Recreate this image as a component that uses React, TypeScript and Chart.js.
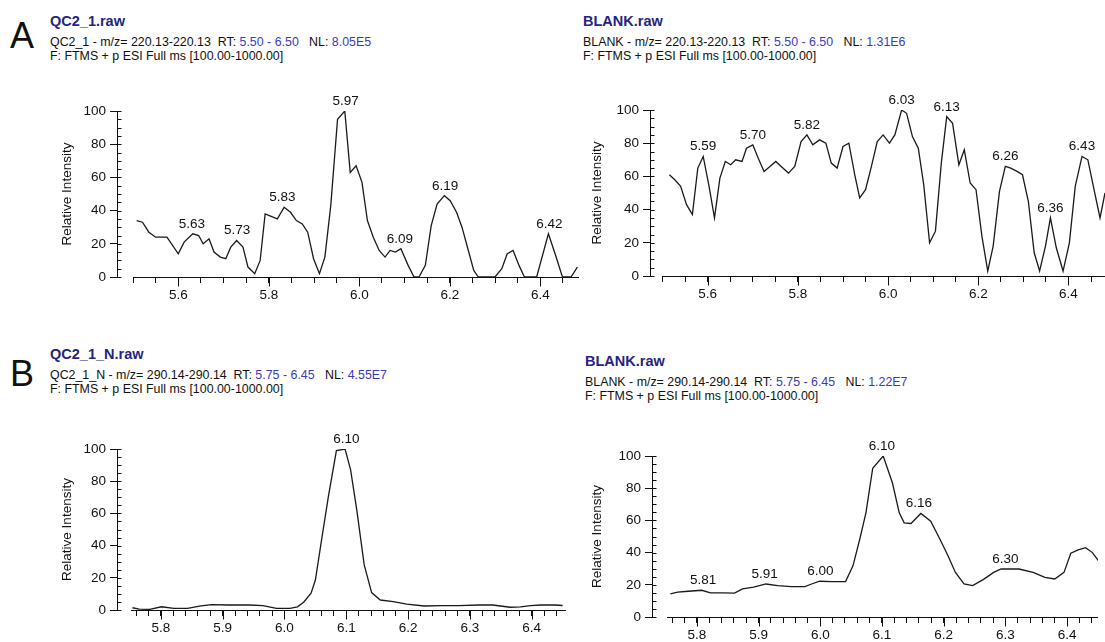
import React, { useEffect, useRef } from 'react';
import { Chart, registerables } from 'chart.js';

Chart.register(...registerables);

const FONT = '"Liberation Sans", Arial, Helvetica, sans-serif';

// ---------- Panel A, left: QC2_1.raw, m/z 220.13 ----------
const rtQcA = [5.508, 5.521, 5.535, 5.550, 5.575, 5.600, 5.613, 5.632, 5.645, 5.655, 5.668, 5.679, 5.693, 5.705, 5.716, 5.729, 5.743, 5.754, 5.769, 5.781, 5.792, 5.819, 5.834, 5.848, 5.861, 5.874, 5.886, 5.899, 5.912, 5.924, 5.937, 5.952, 5.968, 5.980, 5.993, 6.006, 6.018, 6.031, 6.044, 6.057, 6.068, 6.080, 6.092, 6.108, 6.121, 6.132, 6.146, 6.159, 6.172, 6.188, 6.201, 6.215, 6.227, 6.240, 6.253, 6.263, 6.300, 6.315, 6.327, 6.340, 6.353, 6.365, 6.392, 6.418, 6.434, 6.449, 6.468, 6.482];
const intQcA = [34, 33, 27, 24, 24, 14, 21, 26, 25, 20, 23, 15, 12, 11, 18, 22, 18, 6, 2, 10, 38, 35, 42, 39, 34, 32, 27, 11, 2, 12, 43, 95, 100, 63, 67, 57, 34, 24, 16, 12, 16, 15, 17, 7, 0, 0, 7, 31, 44, 49, 46, 39, 30, 17, 4, 0, 0, 5, 14, 16, 7, 0, 0, 26, 13, 0, 0, 6];
const peaksQcA = [5.63, 5.73, 5.83, 5.97, 6.09, 6.19, 6.42];

// ---------- Panel A, right: BLANK.raw, m/z 220.13 ----------
const rtBlankA = [5.515, 5.527, 5.540, 5.553, 5.566, 5.578, 5.590, 5.603, 5.615, 5.627, 5.639, 5.651, 5.662, 5.676, 5.686, 5.700, 5.712, 5.725, 5.738, 5.751, 5.763, 5.779, 5.793, 5.807, 5.820, 5.833, 5.848, 5.862, 5.874, 5.887, 5.900, 5.913, 5.926, 5.937, 5.950, 5.963, 5.976, 5.989, 6.003, 6.015, 6.030, 6.041, 6.054, 6.067, 6.079, 6.092, 6.105, 6.118, 6.130, 6.143, 6.157, 6.169, 6.182, 6.195, 6.208, 6.221, 6.233, 6.247, 6.260, 6.272, 6.286, 6.298, 6.311, 6.324, 6.336, 6.349, 6.360, 6.373, 6.388, 6.402, 6.415, 6.430, 6.443, 6.456, 6.470, 6.481, 6.492];
const intBlankA = [61, 58, 54, 43, 37, 65, 72, 54, 35, 59, 69, 67, 70, 69, 77, 79, 71, 63, 66, 69, 66, 62, 66, 81, 85, 79, 82, 80, 68, 65, 78, 80, 61, 47, 52, 66, 81, 85, 80, 85, 100, 98, 84, 77, 55, 20, 27, 68, 96, 92, 67, 76, 56, 52, 24, 3, 18, 51, 66, 65, 63, 61, 45, 14, 3, 18, 35, 17, 3, 20, 54, 72, 70, 53, 35, 50, 52];
const peaksBlankA = [5.59, 5.70, 5.82, 6.03, 6.13, 6.26, 6.36, 6.43];

// ---------- Panel B, left: QC2_1_N.raw, m/z 290.14 ----------
const rtQcB = [5.754, 5.765, 5.782, 5.801, 5.821, 5.843, 5.865, 5.882, 5.909, 5.943, 5.965, 5.987, 6.009, 6.021, 6.031, 6.043, 6.050, 6.060, 6.071, 6.084, 6.098, 6.107, 6.117, 6.129, 6.141, 6.155, 6.176, 6.198, 6.226, 6.254, 6.282, 6.315, 6.337, 6.365, 6.382, 6.398, 6.415, 6.437, 6.450];
const intQcB = [1.4, 0.6, 0.4, 2, 1, 1, 2.5, 3.3, 3.1, 3.1, 2.7, 1, 1, 2, 4.8, 10.4, 18.6, 43.5, 70.4, 99, 100, 87, 62, 28, 10.8, 6.2, 5.2, 3.7, 2.5, 2.7, 2.7, 3.1, 3.1, 1.7, 2, 2.7, 3.1, 3.1, 2.8];
const peaksQcB = [6.10];

// ---------- Panel B, right: BLANK.raw, m/z 290.14 ----------
const rtBlankB = [5.757, 5.769, 5.786, 5.808, 5.822, 5.842, 5.861, 5.874, 5.892, 5.912, 5.931, 5.953, 5.975, 5.986, 5.999, 6.019, 6.041, 6.053, 6.064, 6.074, 6.085, 6.102, 6.117, 6.128, 6.136, 6.147, 6.163, 6.179, 6.194, 6.207, 6.219, 6.233, 6.247, 6.264, 6.281, 6.293, 6.306, 6.322, 6.345, 6.364, 6.380, 6.395, 6.406, 6.418, 6.430, 6.441, 6.452];
const intBlankB = [14.4, 15.4, 16, 16.6, 15, 15, 14.8, 17.5, 18.5, 20.5, 19.5, 18.9, 18.9, 20.5, 22.2, 22, 22, 31.8, 48.3, 64.7, 92.4, 100, 83.2, 64.7, 58.5, 58.1, 64.3, 59.5, 48.3, 38, 27.7, 20.5, 19.5, 23.2, 27.7, 29.8, 29.8, 29.8, 27.7, 24.6, 23.6, 27.7, 39.6, 41.7, 43.1, 40, 34.3];
const peaksBlankB = [5.81, 5.91, 6.00, 6.10, 6.16, 6.30];

type PanelProps = {
  rt: number[];
  intensity: number[];
  peaks: number[];
  left: number;
  top: number;
  w: number;
  h: number;
  padTop: number;
  yAxisW: number;
  xAxisH: number;
  xMin: number;
  xMax: number;
  axisStart: number;
  minorStep: number;
  majorStep: number;
};

function Chromatogram(p: PanelProps) {
  const ref = useRef<HTMLCanvasElement>(null);
  useEffect(() => {
    const canvas = ref.current;
    if (!canvas) return;
    const isMajor = (v: number) => Math.abs(v / p.majorStep - Math.round(v / p.majorStep)) < 1e-6;
    const points = p.rt.map((x, i) => ({ x, y: p.intensity[i] }));
    const deco = {
      id: 'chromDeco',
      afterDraw(chart: any) {
        const { ctx, chartArea } = chart;
        const xs = chart.scales.x;
        const ys = chart.scales.y;
        ctx.save();
        ctx.strokeStyle = '#111';
        ctx.lineWidth = 1;
        const yb = Math.round(chartArea.bottom) + 0.5;
        ctx.beginPath();
        ctx.moveTo(Math.round(xs.getPixelForValue(p.axisStart)), yb);
        ctx.lineTo(chartArea.right, yb);
        ctx.stroke();
        // longer marks at labelled x ticks
        xs.ticks.forEach((t: any) => {
          if (t.value >= p.axisStart - 1e-9 && isMajor(t.value)) {
            const px = Math.round(xs.getPixelForValue(t.value)) + 0.5;
            ctx.beginPath();
            ctx.moveTo(px, yb);
            ctx.lineTo(px, yb + 9);
            ctx.stroke();
          }
        });
        // minor y ticks (every 5)
        const lx = Math.round(chartArea.left) + 0.5;
        for (let v = 0; v <= 100; v += 5) {
          const py = Math.round(ys.getPixelForValue(v)) + 0.5;
          ctx.beginPath();
          ctx.moveTo(lx, py);
          ctx.lineTo(lx + 4, py);
          ctx.stroke();
        }
        // peak retention-time labels
        ctx.fillStyle = '#111';
        ctx.font = `13.5px ${FONT}`;
        ctx.textAlign = 'center';
        ctx.textBaseline = 'bottom';
        p.peaks.forEach((pk) => {
          let best = -1;
          p.rt.forEach((x, i) => {
            if (Math.abs(x - pk) <= 0.013 && p.intensity[i] > best) best = p.intensity[i];
          });
          if (best < 0) return;
          ctx.fillText(pk.toFixed(2), xs.getPixelForValue(pk), ys.getPixelForValue(best) - 3);
        });
        ctx.restore();
      },
    };
    const chart = new Chart(canvas, {
      type: 'line',
      data: {
        datasets: [
          {
            data: points,
            borderColor: '#1a1a1a',
            borderWidth: 1.3,
            pointRadius: 0,
            tension: 0,
            fill: false,
          },
        ],
      },
      options: {
        animation: false,
        responsive: false,
        maintainAspectRatio: false,
        events: [],
        layout: { padding: { top: p.padTop, left: 0, right: 0, bottom: 0 } },
        plugins: { legend: { display: false }, tooltip: { enabled: false }, title: { display: false } },
        scales: {
          x: {
            type: 'linear',
            min: p.xMin,
            max: p.xMax,
            afterFit: (s: any) => {
              s.height = p.xAxisH;
            },
            border: { display: false },
            grid: {
              drawOnChartArea: false,
              drawTicks: true,
              tickLength: 6,
              lineWidth: 1,
              tickColor: (c: any) => (c.tick && c.tick.value < p.axisStart - 1e-9 ? 'rgba(0,0,0,0)' : '#111'),
            },
            ticks: {
              stepSize: p.minorStep,
              maxTicksLimit: 1000,
              includeBounds: false,
              autoSkip: false,
              maxRotation: 0,
              minRotation: 0,
              padding: 4,
              color: '#111',
              font: { family: FONT, size: 13.5 },
              callback: (v: any) => (v >= p.axisStart - 1e-9 && isMajor(Number(v)) ? Number(v).toFixed(1) : ''),
            },
          },
          y: {
            type: 'linear',
            min: 0,
            max: 100,
            afterFit: (s: any) => {
              s.width = p.yAxisW;
            },
            border: { display: true, color: '#111', width: 1 },
            grid: { drawOnChartArea: false, tickLength: 7, color: '#111', lineWidth: 1 },
            ticks: { stepSize: 20, padding: 4, color: '#111', font: { family: FONT, size: 13.5 } },
            title: {
              display: true,
              text: 'Relative Intensity',
              color: '#111',
              font: { family: FONT, size: 13.5 },
              padding: { top: 19, bottom: 0 },
            },
          },
        },
      },
      plugins: [deco],
    } as any);
    return () => chart.destroy();
  }, []);
  return (
    <canvas
      ref={ref}
      width={p.w}
      height={p.h}
      style={{ position: 'absolute', left: p.left, top: p.top, width: p.w, height: p.h, display: 'block' }}
    />
  );
}

function Txt(props: { x: number; base: number; size: number; bold?: boolean; color?: string; children: any }) {
  const { x, base, size, bold, color, children } = props;
  return (
    <div
      style={{
        position: 'absolute',
        left: x,
        top: base - 0.8465 * size,
        fontFamily: FONT,
        fontSize: size,
        lineHeight: `${size}px`,
        fontWeight: bold ? 700 : 400,
        color: color || '#111',
        whiteSpace: 'pre',
      }}
    >
      {children}
    </div>
  );
}

const TITLE = '#25257f';
const BLUE = '#3a3ac0';

function Header(props: { x: number; base: number; title: string; name: string; mz: string; rt: string; nl: string }) {
  const { x, base, title, name, mz, rt, nl } = props;
  return (
    <>
      <Txt x={x} base={base} size={14.5} bold color={TITLE}>
        {title}
      </Txt>
      <Txt x={x} base={base + 20} size={12.4}>
        {`${name} - m/z= ${mz}  RT: `}
        <span style={{ color: BLUE }}>{rt}</span>
        {'   NL: '}
        <span style={{ color: BLUE }}>{nl}</span>
      </Txt>
      <Txt x={x} base={base + 34} size={12.4}>
        {'F: FTMS + p ESI Full ms [100.00-1000.00]'}
      </Txt>
    </>
  );
}

export default function App() {
  return (
    <div style={{ position: 'absolute', left: 0, top: 0, width: 1105, height: 642, overflow: 'hidden', background: '#fff' }}>
      <Txt x={10} base={48} size={36}>
        A
      </Txt>
      <Txt x={10} base={386} size={36}>
        B
      </Txt>
      <Header x={50} base={26} title="QC2_1.raw" name="QC2_1" mz="220.13-220.13" rt="5.50 - 6.50" nl="8.05E5" />
      <Header x={583} base={26} title="BLANK.raw" name="BLANK" mz="220.13-220.13" rt="5.50 - 6.50" nl="1.31E6" />
      <Header x={50} base={359} title="QC2_1_N.raw" name="QC2_1_N" mz="290.14-290.14" rt="5.75 - 6.45" nl="4.55E7" />
      <Header x={585} base={366} title="BLANK.raw" name="BLANK" mz="290.14-290.14" rt="5.75 - 6.45" nl="1.22E7" />

      <Chromatogram
        rt={rtQcA}
        intensity={intQcA}
        peaks={peaksQcA}
        left={40}
        top={85}
        w={539}
        h={220}
        padTop={26}
        yAxisW={77}
        xAxisH={28}
        xMin={5.4646}
        xMax={6.4856}
        axisStart={5.5}
        minorStep={0.05}
        majorStep={0.2}
      />
      <Chromatogram
        rt={rtBlankA}
        intensity={intBlankA}
        peaks={peaksBlankA}
        left={570}
        top={84}
        w={535}
        h={220}
        padTop={26}
        yAxisW={80}
        xAxisH={28}
        xMin={5.472}
        xMax={6.481}
        axisStart={5.5}
        minorStep={0.05}
        majorStep={0.2}
      />
      <Chromatogram
        rt={rtQcB}
        intensity={intQcB}
        peaks={peaksQcB}
        left={40}
        top={423}
        w={526}
        h={217}
        padTop={26}
        yAxisW={77}
        xAxisH={30}
        xMin={5.729}
        xMax={6.4555}
        axisStart={5.752}
        minorStep={0.02}
        majorStep={0.1}
      />
      <Chromatogram
        rt={rtBlankB}
        intensity={intBlankB}
        peaks={peaksBlankB}
        left={570}
        top={430}
        w={528}
        h={212}
        padTop={26}
        yAxisW={82}
        xAxisH={25}
        xMin={5.7273}
        xMax={6.4501}
        axisStart={5.752}
        minorStep={0.02}
        majorStep={0.1}
      />
    </div>
  );
}
